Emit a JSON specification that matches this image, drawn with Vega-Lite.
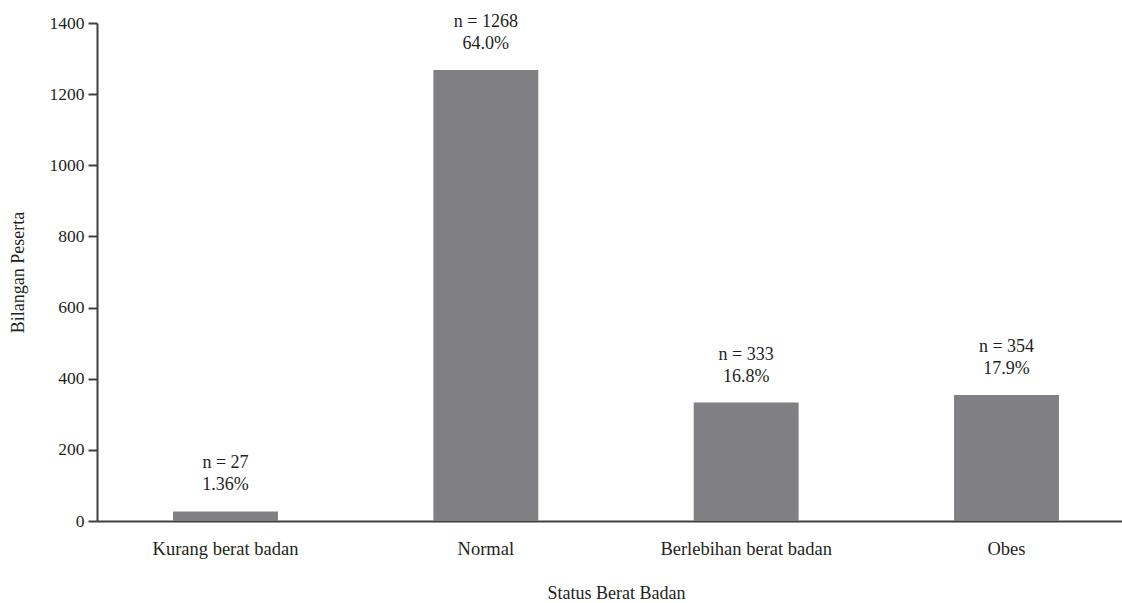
{
  "$schema": "https://vega.github.io/schema/vega-lite/v6.json",
  "autosize": {"type": "none"},
  "width": 1025,
  "height": 498,
  "padding": {"left": 97, "top": 23, "right": 0, "bottom": 82},
  "background": "white",
  "config": {
    "view": {"stroke": null},
    "font": "Liberation Serif",
    "axis": {"labelFont": "Liberation Serif", "titleFont": "Liberation Serif", "labelColor": "#231f20", "titleColor": "#231f20", "domainColor": "#404040", "tickColor": "#404040", "domainWidth": 2, "tickWidth": 2, "grid": false, "titleFontWeight": "normal", "labelLimit": 0}
  },
  "data": {
    "values": [
      {"status": "Kurang berat badan", "n": 27, "pct": "1.36%"},
      {"status": "Normal", "n": 1268, "pct": "64.0%"},
      {"status": "Berlebihan berat badan", "n": 333, "pct": "16.8%"},
      {"status": "Obes", "n": 354, "pct": "17.9%"}
    ]
  },
  "encoding": {
    "x": {
      "field": "status", "type": "nominal", "sort": null,
      "scale": {"range": [0, 1038], "paddingInner": 0.597, "paddingOuter": 0.292},
      "axis": {"title": "Status Berat Badan", "labelAngle": 0, "ticks": false, "labelFontSize": 18.5, "labelPadding": 18, "titleFontSize": 18, "titlePadding": 27}
    },
    "y": {
      "field": "n", "type": "quantitative",
      "scale": {"domain": [0, 1400], "nice": false},
      "axis": {"title": "Bilangan Peserta", "format": "d", "values": [0, 200, 400, 600, 800, 1000, 1200, 1400], "tickSize": 9, "labelFontSize": 17.5, "labelPadding": 4, "titleFontSize": 18, "titlePadding": 22}
    }
  },
  "layer": [
    {"mark": {"type": "bar", "color": "#808084"}},
    {
      "transform": [{"calculate": "['n = ' + datum.n, datum.pct]", "as": "lbl"}],
      "mark": {"type": "text", "font": "Liberation Serif", "fontSize": 18, "color": "#231f20", "baseline": "alphabetic", "dy": -43, "lineHeight": 22},
      "encoding": {"text": {"field": "lbl"}}
    }
  ]
}
